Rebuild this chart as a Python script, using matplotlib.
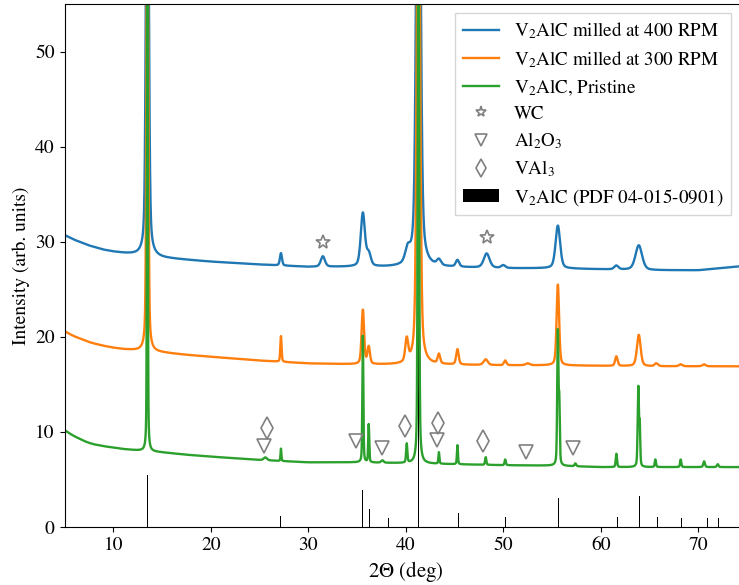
import numpy as np
import matplotlib
matplotlib.use('Agg')
import matplotlib.pyplot as plt

plt.rcParams['font.family'] = 'serif'
plt.rcParams['font.serif'] = ['STIXGeneral', 'Liberation Serif', 'DejaVu Serif']
plt.rcParams['mathtext.fontset'] = 'stix'

# baselines (2theta, intensity)
base_x = [5, 5.5, 6, 6.5, 7, 7.5, 8, 9, 10, 11, 12.5, 15, 17.5, 20, 25, 30, 35, 40, 45, 50, 55, 60, 65, 70, 72, 74, 75]
base_400 = [30.7, 30.45, 30.2, 30.0, 29.8, 29.6, 29.45, 29.15, 28.95, 28.8, 28.6, 28.3, 28.1, 27.9, 27.6, 27.35, 27.35, 27.3, 27.3, 27.2, 27.2, 27.1, 27.0, 27.0, 27.2, 27.4, 27.4]
base_300 = [20.6, 20.3, 20.05, 19.85, 19.65, 19.45, 19.3, 19.05, 18.85, 18.7, 18.55, 18.35, 18.1, 17.9, 17.5, 17.2, 17.1, 17.05, 17.05, 17.0, 17.0, 16.95, 16.9, 16.9, 16.9, 16.9, 16.9]
base_pri = [10.2, 9.85, 9.55, 9.3, 9.05, 8.85, 8.7, 8.5, 8.35, 8.2, 8.05, 7.85, 7.6, 7.4, 7.05, 6.8, 6.8, 6.7, 6.6, 6.5, 6.45, 6.3, 6.3, 6.3, 6.3, 6.3, 6.3]

# peaks: (position, height above baseline, fwhm)
peaks_400 = [(13.5, 60, 0.3), (27.2, 1.3, 0.25), (31.5, 1.1, 0.5), (35.6, 5.6, 0.5),
             (36.2, 1.3, 0.5), (40.2, 1.4, 0.6), (41.3, 70, 0.45), (43.4, 0.6, 0.5),
             (45.3, 0.7, 0.4), (48.3, 1.5, 0.7), (50.0, 0.3, 0.5), (55.6, 4.5, 0.55),
             (61.6, 0.4, 0.5), (63.9, 2.6, 0.8)]
peaks_300 = [(13.5, 60, 0.2), (27.2, 2.7, 0.15), (35.6, 5.7, 0.3), (36.2, 1.8, 0.3),
             (40.1, 2.4, 0.35), (41.3, 70, 0.35), (43.4, 1.0, 0.3), (45.3, 1.6, 0.3),
             (48.2, 0.6, 0.5), (50.2, 0.5, 0.3), (52.5, 0.2, 0.5), (55.6, 8.5, 0.3),
             (61.6, 1.0, 0.3), (63.9, 3.3, 0.45), (65.7, 0.3, 0.4), (68.2, 0.2, 0.4),
             (70.6, 0.2, 0.4)]
peaks_pri = [(13.5, 60, 0.1), (25.6, 0.3, 0.4), (27.2, 1.3, 0.1), (35.6, 13.3, 0.12),
             (36.2, 4.0, 0.12), (37.6, 0.25, 0.3), (40.1, 2.0, 0.15), (41.3, 70, 0.15),
             (43.4, 1.2, 0.12), (45.3, 2.0, 0.12), (48.2, 0.8, 0.15), (50.2, 0.6, 0.15),
             (55.6, 14.0, 0.15), (55.75, 6.0, 0.12), (57.4, 0.3, 0.2), (61.6, 1.4, 0.15),
             (63.85, 8.3, 0.15), (64.0, 4.0, 0.12), (65.6, 0.8, 0.15), (68.2, 0.8, 0.15),
             (70.6, 0.6, 0.2), (72.0, 0.3, 0.2)]

# marker positions
wc_x, wc_y = [31.5, 48.3], [30.0, 30.5]
al2o3_x = [25.5, 34.9, 37.6, 43.2, 52.3, 57.2]
al2o3_y = [8.5, 9.0, 8.3, 9.1, 7.9, 8.3]
val3_x, val3_y = [25.8, 39.9, 43.3, 47.9], [10.4, 10.6, 10.9, 9.0]

# reference pattern V2AlC (PDF 04-015-0901)
ref_x = [13.5, 27.2, 35.6, 36.25, 38.2, 41.35, 45.4, 50.25, 55.7, 61.75, 64.0, 65.8, 68.3, 70.9, 72.1]
ref_h = [5.5, 1.2, 3.9, 1.85, 0.98, 100, 1.44, 1.1, 3.05, 1.1, 3.25, 1.1, 0.95, 0.95, 0.95]


def pattern(x, bx, by, peaks, eta=0.4):
    y = np.interp(x, bx, by)
    for c, h, w in peaks:
        d = (x - c) / (w / 2.0)
        y = y + h * (eta / (1 + d**2) + (1 - eta) * np.exp(-np.log(2) * d**2))
    return y


tt = np.linspace(5, 75, 14001)

fig = plt.figure(figsize=(7.39, 5.85), dpi=100)
ax = fig.add_axes([64.5/739, 1-527/585, (747-64.5)/739, (527-4)/585])

ax.plot(tt, pattern(tt, base_x, base_400, peaks_400), color='tab:blue', lw=1.7, label='V$_2$AlC milled at 400 RPM')
ax.plot(tt, pattern(tt, base_x, base_300, peaks_300), color='tab:orange', lw=1.7, label='V$_2$AlC milled at 300 RPM')
ax.plot(tt, pattern(tt, base_x, base_pri, peaks_pri), color='tab:green', lw=1.7, label='V$_2$AlC, Pristine')

mk = dict(ls='none', mfc='none', mec='#808080', mew=1.2)
ax.plot(wc_x, wc_y, marker='*', ms=10, label='WC', **mk)
ax.plot(al2o3_x, al2o3_y, marker='v', ms=10, label='Al$_2$O$_3$', **mk)
ax.plot(val3_x, val3_y, marker='d', ms=11, label='VAl$_3$', **mk)

ax.bar(ref_x, ref_h, width=0.1, color='k', label='V$_2$AlC (PDF 04-015-0901)')

ax.set_xlim(5, 75)
ax.set_ylim(0, 55)
ax.set_xticks([10, 20, 30, 40, 50, 60, 70])
ax.set_yticks([0, 10, 20, 30, 40, 50])
ax.tick_params(labelsize=14)
ax.set_xlabel('2$\\Theta$ (deg)', fontsize=15)
ax.set_ylabel('Intensity (arb. units)', fontsize=14)

ax.legend(loc='upper right', bbox_to_anchor=(731/739, 1-13/585), bbox_transform=fig.transFigure,
          borderaxespad=0, fontsize=13.7, fancybox=False, labelspacing=0.4, borderpad=0.4,
          markerscale=0.8, handlelength=1.9, handletextpad=0.8)

fig.savefig('out.png', dpi=100)
